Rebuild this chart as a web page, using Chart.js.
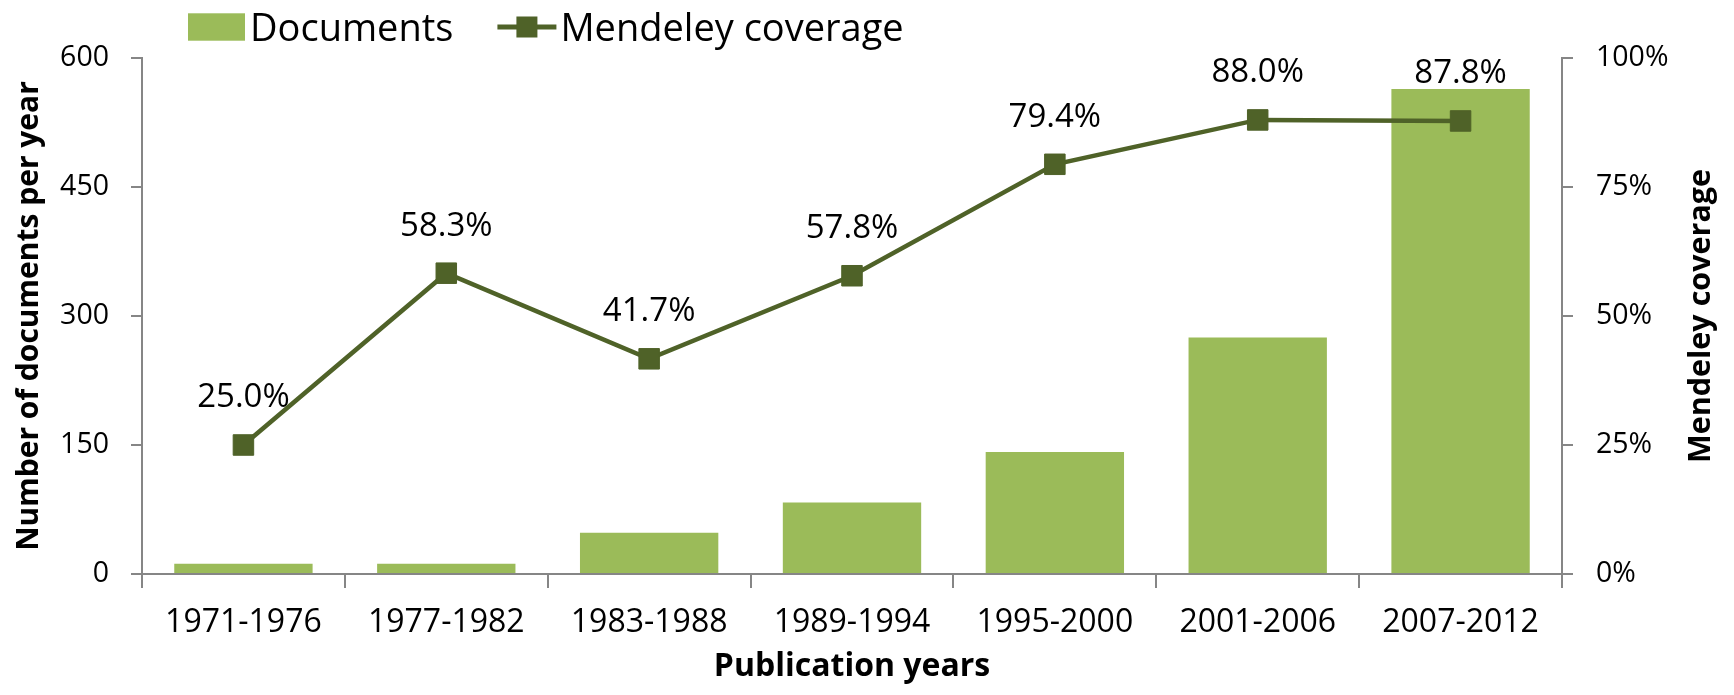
<!DOCTYPE html>
<html><head><meta charset="utf-8">
<script src="https://cdn.jsdelivr.net/npm/chart.js@4"></script>
<style>html,body{margin:0;padding:0;background:#fff;} canvas{display:block;}</style>
</head><body>
<canvas id="c" width="1734" height="695"></canvas>
<script>
const categories = ['1971-1976','1977-1982','1983-1988','1989-1994','1995-2000','2001-2006','2007-2012'];
const documents = [12, 12, 48, 83, 142, 275, 564];
const coverage = [25.0, 58.3, 41.7, 57.8, 79.4, 88.0, 87.8];
const leftTicks = [0, 150, 300, 450, 600];
const rightTicks = [0, 25, 50, 75, 100];
const seriesNames = ['Documents', 'Mendeley coverage'];
const xTitle = 'Publication years';
const leftTitle = 'Number of documents per year';
const rightTitle = 'Mendeley coverage';

const BAR = '#9BBB59', LINE = '#4F6228', AXIS = '#868686';
const FONT = '"Open Sans", "DejaVu Sans", sans-serif';

const labelPlugin = {
  id: 'pointLabels',
  beforeDatasetDraw(chart, args) {
    if (chart.data.datasets[args.index].type !== 'line') return;
    const ctx = chart.ctx;
    const ds = chart.data.datasets[args.index];
    ctx.save();
    ctx.font = '33px ' + FONT;
    ctx.fillStyle = '#000';
    ctx.textAlign = 'center';
    ctx.textBaseline = 'middle';
    args.meta.data.forEach((pt, i) => {
      ctx.fillText(ds.data[i].toFixed(1) + '%', pt.x, pt.y - 47);
    });
    ctx.restore();
  }
};

const rightTitlePlugin = {
  id: 'rightTitle',
  afterDraw(chart) {
    const ctx = chart.ctx;
    const s = chart.scales.y1;
    ctx.save();
    ctx.translate(s.right - 33, (chart.chartArea.top + chart.chartArea.bottom) / 2);
    ctx.rotate(-Math.PI / 2);
    ctx.font = 'bold 30.5px ' + FONT;
    ctx.fillStyle = '#000';
    ctx.textAlign = 'center';
    ctx.textBaseline = 'middle';
    ctx.fillText(rightTitle, 0, 0);
    ctx.restore();
  }
};

const legendPlugin = {
  id: 'customLegend',
  afterDraw(chart) {
    const ctx = chart.ctx;
    const [bar, line] = chart.data.datasets;
    ctx.save();
    ctx.font = '38px ' + FONT;
    ctx.textBaseline = 'alphabetic';
    let x = 188;
    const base = 40.7, mid = 27;
    ctx.fillStyle = bar.backgroundColor;
    ctx.fillRect(x, 13.3, 57, 27.4);
    x += 57 + 5;
    ctx.fillStyle = '#000';
    ctx.fillText(bar.label, x, base);
    x += ctx.measureText(bar.label).width + 44;
    ctx.strokeStyle = line.borderColor;
    ctx.lineWidth = 5;
    ctx.beginPath(); ctx.moveTo(x, mid); ctx.lineTo(x + 59, mid); ctx.stroke();
    ctx.fillStyle = line.pointBackgroundColor;
    ctx.fillRect(x + 29.5 - 10.5, mid - 10.5, 21, 21);
    x += 59 + 4;
    ctx.fillStyle = '#000';
    ctx.fillText(line.label, x, base);
    ctx.restore();
  }
};

new Chart(document.getElementById('c'), {
  data: {
    labels: categories,
    datasets: [
      { type: 'bar', label: seriesNames[0], data: documents, backgroundColor: BAR,
        yAxisID: 'y', order: 1, barPercentage: 0.682, categoryPercentage: 1.0 },
      { type: 'line', label: seriesNames[1], data: coverage, borderColor: LINE, borderWidth: 4.5,
        pointStyle: 'rect', pointRadius: 14.5, pointBackgroundColor: LINE, pointBorderColor: LINE,
        pointBorderWidth: 1, tension: 0, yAxisID: 'y1', order: 0 }
    ]
  },
  options: {
    responsive: false,
    animation: false,
    devicePixelRatio: 1,
    layout: { padding: { top: 58, left: 0, right: 0, bottom: 0 } },
    plugins: { legend: { display: false }, tooltip: { enabled: false } },
    scales: {
      x: {
        offset: true,
        grid: { offset: true, drawOnChartArea: false, drawTicks: true, tickLength: 14, color: AXIS, lineWidth: 2 },
        border: { display: true, color: AXIS, width: 2 },
        ticks: { font: { family: FONT, size: 32 }, color: '#000', padding: 16, maxRotation: 0, autoSkip: false },
        title: { display: true, text: xTitle, color: '#000', font: { family: FONT, size: 32, weight: 'bold' }, padding: { top: 0, bottom: 9 } },
        afterFit(s) { s.height = 121; }
      },
      y: {
        position: 'left', min: 0, max: 600,
        afterBuildTicks(s) { s.ticks = leftTicks.map(v => ({ value: v })); },
        grid: { drawOnChartArea: false, drawTicks: true, tickLength: 11, color: AXIS, lineWidth: 2 },
        border: { display: true, color: AXIS, width: 2 },
        ticks: { font: { family: FONT, size: 28.5 }, color: '#000', padding: 22 },
        title: { display: true, text: leftTitle, color: '#000', font: { family: FONT, size: 30, weight: 'bold' }, padding: { top: 11, bottom: 0 } },
        afterFit(s) { s.width = 142; }
      },
      y1: {
        position: 'right', min: 0, max: 100,
        afterBuildTicks(s) { s.ticks = rightTicks.map(v => ({ value: v })); },
        grid: { drawOnChartArea: false, drawTicks: true, tickLength: 11, color: AXIS, lineWidth: 2 },
        border: { display: true, color: AXIS, width: 2 },
        ticks: { font: { family: FONT, size: 28.5 }, color: '#000', padding: 23, callback: v => v + '%' },
        title: { display: false },
        afterFit(s) { s.width = 172; }
      }
    }
  },
  plugins: [labelPlugin, rightTitlePlugin, legendPlugin]
});
</script>
</body></html>
